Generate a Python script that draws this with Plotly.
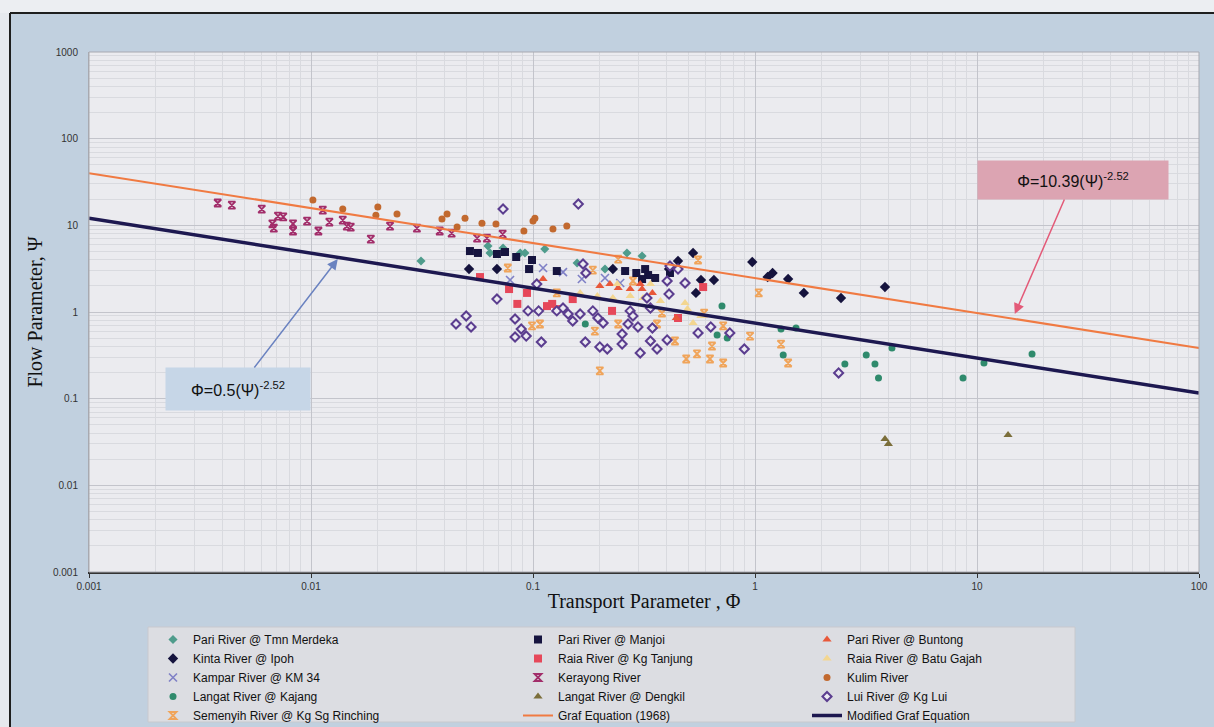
import math
import plotly.graph_objects as go

# ---------------- data ----------------
tmn_x = [0.0313, 0.0627, 0.064, 0.0733, 0.0876, 0.092, 0.113, 0.158, 0.211, 0.265, 0.31]
tmn_y = [3.87, 5.77, 4.8, 5.47, 4.8, 4.8, 5.33, 3.67, 3.13, 4.8, 4.43]

manjoi_x = [0.052, 0.0565, 0.0688, 0.0748, 0.084, 0.099, 0.096, 0.128, 0.26, 0.292, 0.32, 0.33, 0.355, 0.31, 0.414]
manjoi_y = [5.05, 4.8, 4.67, 4.92, 4.31, 3.98, 3.13, 2.97, 2.97, 2.82, 3.13, 2.67, 2.47, 2.4, 2.82]

buntong_x = [0.111, 0.2, 0.242, 0.274, 0.31, 0.345, 0.304, 0.442, 0.222]
buntong_y = [2.4, 2.0, 1.89, 1.84, 1.84, 1.66, 2.1, 0.853, 2.1]

kinta_x = [0.0515, 0.0688, 0.229, 0.41, 0.45, 0.526, 0.571, 0.653, 0.542, 0.484, 0.972, 1.14, 1.2, 1.41, 1.66, 2.44, 3.85]
kinta_y = [3.13, 3.13, 3.13, 3.13, 3.87, 4.8, 2.34, 2.34, 1.66, 2.16, 3.77, 2.53, 2.82, 2.4, 1.66, 1.45, 1.94]

tanjung_x = [0.0577, 0.078, 0.085, 0.094, 0.1156, 0.122, 0.128, 0.151, 0.227, 0.45, 0.584]
tanjung_y = [2.53, 1.84, 1.24, 1.66, 1.17, 1.24, 1.08, 1.41, 1.03, 0.853, 1.94]

batugajah_x = [0.163, 0.195, 0.229, 0.274, 0.313, 0.375, 0.484, 0.496, 0.57, 0.526, 0.24, 0.338]
batugajah_y = [1.66, 1.53, 1.45, 1.53, 1.45, 1.34, 1.27, 1.08, 0.9, 0.747, 2.1, 2.1]

kampar_x = [0.0788, 0.111, 0.1365, 0.166, 0.211, 0.247]
kampar_y = [2.34, 3.22, 2.89, 2.4, 2.47, 2.16]

kerayong_x = [0.0038, 0.0044, 0.0060, 0.0067, 0.0068, 0.0071, 0.0075, 0.0083, 0.0083, 0.0096, 0.0108, 0.0113,
              0.0121, 0.0139, 0.0145, 0.0151, 0.0186, 0.0227, 0.030, 0.038, 0.043, 0.056, 0.062, 0.073]
kerayong_y = [18.1, 17.1, 15.4, 10.4, 9.3, 12.8, 12.5, 10.4, 8.6, 11.2, 8.6, 15.0,
              10.9, 11.5, 9.8, 9.55, 6.95, 9.8, 9.3, 8.6, 8.15, 7.1, 7.1, 7.9]

kulim_x = [0.0102, 0.0139, 0.0200, 0.0196, 0.0244, 0.0389, 0.0410, 0.0455, 0.0494, 0.0589, 0.0681, 0.091, 0.100, 0.102, 0.123, 0.142]
kulim_y = [19.6, 15.4, 16.3, 13.1, 13.5, 11.8, 13.5, 9.55, 12.1, 10.6, 10.35, 8.6, 11.2, 12.1, 9.06, 9.8]

kajang_x = [0.172, 0.71, 0.675, 0.75, 1.31, 1.34, 1.53, 2.54, 3.17, 3.47, 4.14, 3.6, 8.65, 10.75, 17.7]
kajang_y = [0.727, 1.17, 0.543, 0.501, 0.637, 0.319, 0.654, 0.251, 0.319, 0.251, 0.384, 0.173, 0.173, 0.258, 0.328]

dengkil_x = [3.85, 3.99, 13.8]
dengkil_y = [0.0343, 0.030, 0.0381]

lui_x = [0.0733, 0.16, 0.0688, 0.045, 0.050, 0.0526, 0.083, 0.083, 0.0885, 0.0932, 0.095, 0.106, 0.109, 0.104,
         0.128, 0.1365, 0.144, 0.151, 0.163, 0.168, 0.173, 0.186, 0.196, 0.207, 0.172, 0.2, 0.216, 0.252, 0.252,
         0.274, 0.282, 0.268, 0.297, 0.304, 0.338, 0.345, 0.362, 0.338, 0.402, 0.41, 0.414, 0.45, 0.484, 0.554,
         0.632, 0.77, 0.895, 0.402, 0.326, 2.38]
lui_y = [15.4, 17.6, 1.41, 0.727, 0.9, 0.672, 0.83, 0.515, 0.637, 0.528, 1.03, 1.03, 0.451, 2.1,
         1.03, 1.11, 0.948, 0.788, 0.948, 3.58, 2.82, 1.03, 0.853, 0.747, 0.451, 0.395, 0.374, 0.557, 0.427,
         1.03, 0.9, 0.727, 0.672, 0.337, 0.463, 0.654, 0.374, 1.11, 2.28, 1.61, 3.39, 3.13, 2.16, 0.573,
         0.672, 0.573, 0.374, 0.476, 1.45, 0.198]

semenyih_x = [0.077, 0.099, 0.1075, 0.186, 0.2, 0.242, 0.242, 0.19, 0.282, 0.381, 0.362, 0.436, 0.49, 0.548,
              0.64, 0.627, 0.719, 0.719, 0.95, 1.04, 1.31, 1.41, 0.554, 0.128, 0.59]
semenyih_y = [3.22, 0.69, 0.727, 3.05, 0.209, 4.08, 0.727, 0.603, 2.28, 0.974, 0.727, 0.463, 0.287, 0.328,
              0.405, 0.287, 0.258, 0.69, 0.528, 1.66, 0.427, 0.258, 3.98, 1.66, 0.97]

# equation lines (end points)
graf_x = [0.001, 100]
graf_y = [40.0, 0.385]
mod_x = [0.001, 100]
mod_y = [12.1, 0.116]

x_tickvals = [0.001, 0.01, 0.1, 1, 10, 100]
x_ticktext = ["0.001", "0.01", "0.1", "1", "10", "100"]
y_tickvals = [0.001, 0.01, 0.1, 1, 10, 100, 1000]
y_ticktext = ["0.001", "0.01", "0.1", "1", "10", "100", "1000"]

# annotation targets
graf_label_target = (14.8, 0.95)
mod_label_target = (0.0132, 4.08)

# ---------------- figure ----------------
fig = go.Figure()


def add_markers(name, x, y, symbol, color, size, legend, line_color=None, line_width=0):
    fig.add_trace(go.Scatter(
        x=x, y=y, mode="markers", name=name, legend=legend,
        marker=dict(symbol=symbol, color=color, size=size,
                    line=dict(width=line_width, color=line_color or color)),
    ))


# column 1
add_markers("Pari River @ Tmn Merdeka", tmn_x, tmn_y, "diamond", "#4f9c8c", 7, "legend")
add_markers("Kinta River @ Ipoh", kinta_x, kinta_y, "diamond", "#15133d", 8, "legend")
add_markers("Kampar River @ KM 34", kampar_x, kampar_y, "x-thin", "#7f80c6", 8, "legend", "#7f80c6", 1.6)
add_markers("Langat River @ Kajang", kajang_x, kajang_y, "circle", "#2f8a6c", 7, "legend")
add_markers("Semenyih River @ Kg Sg Rinching", semenyih_x, semenyih_y, "hourglass-open", "#f0a45a", 7, "legend", "#f0a45a", 1.8)
# column 2
add_markers("Pari River @ Manjoi", manjoi_x, manjoi_y, "square", "#16143f", 8, "legend2")
add_markers("Raia River @ Kg Tanjung", tanjung_x, tanjung_y, "square", "#e6485a", 8, "legend2")
add_markers("Kerayong River", kerayong_x, kerayong_y, "hourglass-open", "#a22d6a", 7, "legend2", "#a22d6a", 1.8)
add_markers("Langat River @ Dengkil", dengkil_x, dengkil_y, "triangle-up", "#7b6e3a", 8, "legend2")
# column 3
add_markers("Pari River @ Buntong", buntong_x, buntong_y, "triangle-up", "#e8583a", 8, "legend3")
add_markers("Raia River @ Batu Gajah", batugajah_x, batugajah_y, "triangle-up", "#f3d690", 8, "legend3")
add_markers("Kulim River", kulim_x, kulim_y, "circle", "#c2692f", 7, "legend3")
add_markers("Lui River @ Kg Lui", lui_x, lui_y, "diamond", "#ecebf2", 7, "legend3", "#5b3d8f", 2)

fig.add_trace(go.Scatter(x=graf_x, y=graf_y, mode="lines", name="Graf Equation (1968)",
                         line=dict(color="#f07a42", width=2), legend="legend2"))
fig.add_trace(go.Scatter(x=mod_x, y=mod_y, mode="lines", name="Modified Graf Equation",
                         line=dict(color="#1d1850", width=3.5), legend="legend3"))

# plot area: px 89..1199 horizontally, 52..572 vertically
L, R, T, B = 89, 1199, 52, 572
W, H = R - L, B - T


def px(xp):
    return (xp - L) / W


def py(yp):
    return (B - yp) / H


legend_font = dict(family="Liberation Sans, Arial", size=12, color="#111")
leg_common = dict(bgcolor="rgba(0,0,0,0)", borderwidth=0, font=legend_font,
                  xanchor="left", yanchor="top", orientation="v", tracegroupgap=0)

fig.update_layout(
    width=1214, height=727,
    margin=dict(l=L, r=1214 - R, t=T, b=727 - B, autoexpand=False),
    paper_bgcolor="#c1d0df",
    plot_bgcolor="#ebebef",
    font=dict(family="Liberation Sans, Arial", color="#222"),
    showlegend=True,
    legend=dict(x=px(153), y=py(625), **leg_common),
    legend2=dict(x=px(518), y=py(625), **leg_common),
    legend3=dict(x=px(807), y=py(625), **leg_common),
)

fig.update_xaxes(
    type="log", range=[-3, 2], automargin=False,
    tickmode="array", tickvals=x_tickvals, ticktext=x_ticktext,
    showgrid=True, gridcolor="#c3c4cb", gridwidth=1,
    minor=dict(dtick="D1", showgrid=True, gridcolor="#d9dadf", gridwidth=1, ticks=""),
    ticks="outside", ticklen=4, tickcolor="#333",
    showline=True, linecolor="#333", linewidth=1.5, zeroline=False,
    tickfont=dict(size=10, color="#333"),
    title=dict(text="Transport Parameter , Φ",
               font=dict(family="Liberation Serif, Times New Roman", size=20, color="#111"), standoff=3),
)
fig.update_yaxes(
    type="log", range=[-3, 3], automargin=False,
    tickmode="array", tickvals=y_tickvals, ticktext=y_ticktext,
    showgrid=True, gridcolor="#c3c4cb", gridwidth=1,
    minor=dict(dtick="D1", showgrid=True, gridcolor="#d9dadf", gridwidth=1, ticks=""),
    ticks="outside", ticklen=8, tickcolor="rgba(0,0,0,0)",
    showline=True, linecolor="#a8a9b0", linewidth=1, zeroline=False,
    tickfont=dict(size=10, color="#333"),
    title=dict(text="Flow Parameter, Ψ",
               font=dict(family="Liberation Serif, Times New Roman", size=20, color="#111"), standoff=4),
)

shapes = [
    # plot border
    dict(type="rect", xref="paper", yref="paper", x0=0, x1=1, y0=0, y1=1,
         line=dict(color="#a8a9b0", width=1), layer="above"),
    # top light strip
    dict(type="rect", xref="paper", yref="paper", x0=px(0), x1=px(1214), y0=py(13), y1=py(0),
         fillcolor="#eceef2", line=dict(width=0), layer="below"),
    # left light strip
    dict(type="rect", xref="paper", yref="paper", x0=px(0), x1=px(10), y0=py(727), y1=py(13),
         fillcolor="#e6e9ee", line=dict(width=0), layer="below"),
    # frame lines
    dict(type="line", xref="paper", yref="paper", x0=px(10), x1=px(1214), y0=py(13), y1=py(13),
         line=dict(color="#1e1e1e", width=2)),
    dict(type="line", xref="paper", yref="paper", x0=px(10), x1=px(10), y0=py(13), y1=py(727),
         line=dict(color="#1e1e1e", width=2)),
    # legend box
    dict(type="rect", xref="paper", yref="paper", x0=px(148), x1=px(1075), y0=py(627), y1=py(722),
         fillcolor="#dcdde2", line=dict(color="#c8c9ce", width=1), layer="below"),
]
fig.update_layout(shapes=shapes)

fig.add_annotation(
    x=math.log10(graf_label_target[0]), y=math.log10(graf_label_target[1]), xref="x", yref="y",
    text="Φ=10.39(Ψ)<sup>-2.52</sup>", showarrow=True, ax=58, ay=-134,
    arrowhead=2, arrowsize=1.4, arrowwidth=1.5, arrowcolor="#e35a78",
    bgcolor="#dca4b2", width=188, height=36,
    font=dict(family="Liberation Sans, Arial", size=16, color="#111"),
)
fig.add_annotation(
    x=math.log10(mod_label_target[0]), y=math.log10(mod_label_target[1]), xref="x", yref="y",
    text="Φ=0.5(Ψ)<sup>-2.52</sup>", showarrow=True, ax=-100, ay=130,
    arrowhead=2, arrowsize=1.4, arrowwidth=1.5, arrowcolor="#6a82c0",
    bgcolor="#c6d6e7", width=142, height=40,
    font=dict(family="Liberation Sans, Arial", size=16, color="#111"),
)

fig.write_html(
    "out.html",
    config={"displayModeBar": False},
    post_script="document.body.style.margin='0px';document.body.style.overflow='hidden';",
)
